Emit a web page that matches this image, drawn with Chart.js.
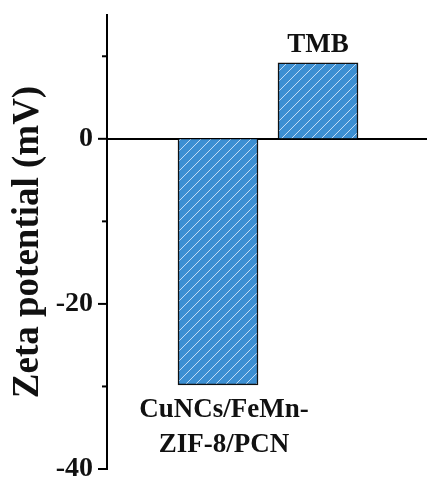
<!DOCTYPE html>
<html>
<head>
<meta charset="utf-8">
<script src="https://cdn.jsdelivr.net/npm/chart.js@4"></script>
<style>
  html, body { margin: 0; padding: 0; background: #fff; }
  #wrap { width: 427px; height: 481px; }
</style>
</head>
<body>
<div id="wrap"><canvas id="zetaChart" width="427" height="481"></canvas></div>
<script>
// data
const categories = ["CuNCs/FeMn-ZIF-8/PCN", "TMB"];
const categoryLines = [["CuNCs/FeMn-", "ZIF-8/PCN"], ["TMB"]];
const xPositions = [1, 2];
const zetaValues = [-29.8, 9.2];
const yTickValues = [-40, -30, -20, -10, 0, 10];
const yMajorTicks = [-40, -20, 0];

const FONT = "'Liberation Serif', 'Times New Roman', serif";

const ctx = document.getElementById("zetaChart").getContext("2d");

// blue fill with thin light diagonal hatch
function makeHatch() {
    const c = document.createElement("canvas");
    c.width = 10; c.height = 10;
    const g = c.getContext("2d");
    g.fillStyle = "#3c8fd2";
    g.fillRect(0, 0, 10, 10);
    g.strokeStyle = "rgba(215,234,250,0.85)";
    g.lineWidth = 1;
    g.beginPath();
    g.moveTo(0, 10); g.lineTo(10, 0);
    g.moveTo(-5, 5); g.lineTo(5, -5);
    g.moveTo(5, 15); g.lineTo(15, 5);
    g.stroke();
    return ctx.createPattern(c, "repeat");
}

// tick marks: long for labelled ticks, short for the others
const tickMarks = {
    id: "tickMarks",
    afterDraw(chart) {
        const y = chart.scales.y;
        const c = chart.ctx;
        c.save();
        c.strokeStyle = "#000";
        c.lineWidth = 2;
        yTickValues.forEach(v => {
            const py = y.getPixelForValue(v);
            const len = yMajorTicks.includes(v) ? 9 : 5;
            c.beginPath();
            c.moveTo(y.right - len, py);
            c.lineTo(y.right, py);
            c.stroke();
        });
        c.restore();
    }
};

// category names written next to each bar
const barNames = {
    id: "barNames",
    afterDatasetsDraw(chart) {
        const meta = chart.getDatasetMeta(0);
        const c = chart.ctx;
        c.save();
        c.fillStyle = "#111";
        c.font = "bold 27px " + FONT;
        c.textAlign = "center";
        c.textBaseline = "alphabetic";
        meta.data.forEach((bar, i) => {
            const lines = categoryLines[i];
            if (zetaValues[i] >= 0) {
                c.fillText(lines[0], bar.x, bar.y - 11);
            } else {
                lines.forEach((t, j) => c.fillText(t, bar.x + 6, bar.y + 32 + j * 35));
            }
        });
        c.restore();
    }
};

new Chart(ctx, {
    type: "bar",
    data: {
        labels: categories,
        datasets: [{
            label: "Zeta potential",
            data: xPositions.map((x, i) => ({ x: x, y: zetaValues[i] })),
            backgroundColor: makeHatch(),
            borderColor: "#111",
            borderWidth: 1.5,
            barThickness: 80
        }]
    },
    options: {
        responsive: false,
        animation: false,
        layout: { padding: { top: 15, bottom: 12, left: 0, right: 0 } },
        plugins: { legend: { display: false }, tooltip: { enabled: false } },
        scales: {
            x: {
                type: "linear",
                offset: false,
                min: -0.11,
                max: 3.09,
                position: { y: 0 },
                afterBuildTicks: s => { s.ticks = xPositions.map(v => ({ value: v })); },
                afterFit: s => { s.paddingLeft = 0; s.paddingRight = 0; },
                ticks: { display: false },
                grid: { display: true, drawOnChartArea: false, drawTicks: false },
                border: { display: true, color: "#000", width: 2 }
            },
            y: {
                min: -40,
                max: 15,
                afterBuildTicks: s => { s.ticks = yTickValues.map(v => ({ value: v })); },
                afterFit: s => { s.width = 107; s.paddingTop = 0; s.paddingBottom = 0; },
                ticks: {
                    padding: 14,
                    color: "#111",
                    font: { family: FONT, size: 28, weight: "bold" },
                    callback: v => (yMajorTicks.includes(v) ? String(v) : "")
                },
                grid: { display: true, drawOnChartArea: false, drawTicks: false },
                border: { display: true, color: "#000", width: 2 },
                title: {
                    display: true,
                    text: "Zeta potential (mV)",
                    color: "#111",
                    font: { family: FONT, size: 37, weight: "bold" },
                    padding: { top: 6, bottom: 0 }
                }
            }
        }
    },
    plugins: [tickMarks, barNames]
});
</script>
</body>
</html>
